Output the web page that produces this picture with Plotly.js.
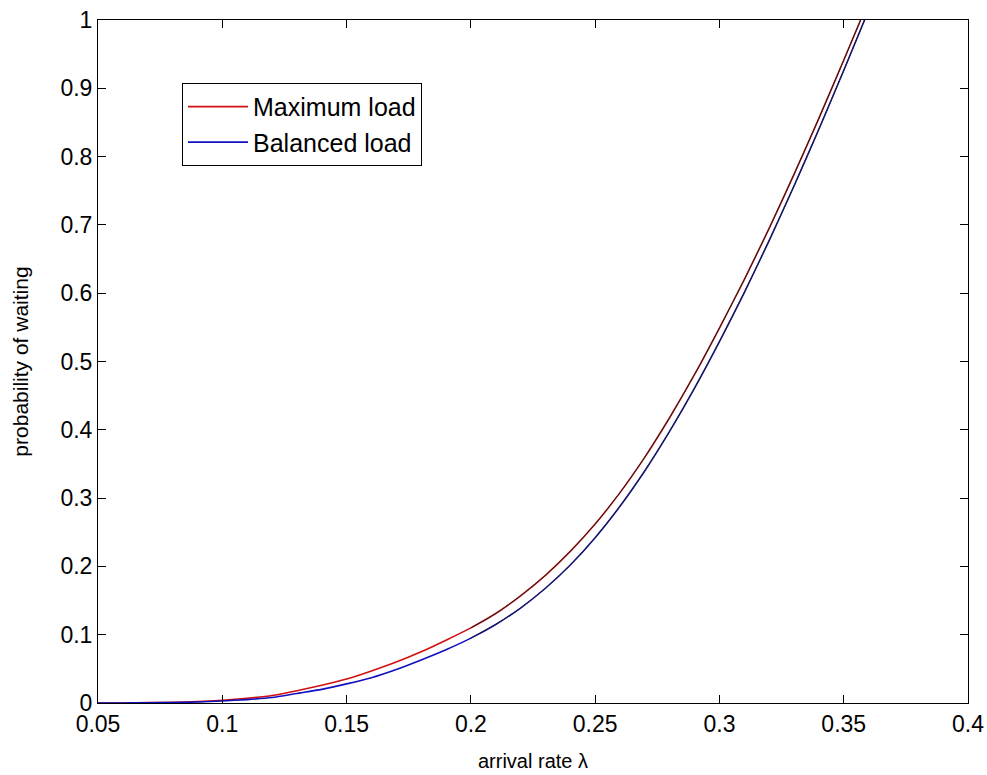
<!DOCTYPE html>
<html>
<head>
<meta charset="utf-8">
<script src="https://cdn.plot.ly/plotly-3.0.1.min.js"></script>
<style>html,body{margin:0;padding:0;background:#fff;}#chart{width:987px;height:775px;}</style>
</head>
<body>
<div id="chart"></div>
<script>
// arrival rate lambda
const lambda = [0.05,0.06,0.07,0.08,0.09,0.10,0.11,0.12,0.13,0.14,0.15,0.16,0.17,0.18,0.19,0.20,0.21,0.22,0.23,0.24,0.25,0.26,0.27,0.28,0.29,0.30,0.31,0.32,0.33,0.34,0.35,0.3568];
// probability of waiting — maximum load
const maxLoad = [0,0,0.0005,0.001,0.002,0.004,0.007,0.011,0.018,0.026,0.035,0.047,0.060,0.075,0.092,0.110,0.131,0.157,0.187,0.222,0.262,0.308,0.360,0.418,0.481,0.549,0.620,0.695,0.774,0.856,0.941,1.0];
// lambda for balanced load
const lambdaB = [0.05,0.06,0.07,0.08,0.09,0.10,0.11,0.12,0.13,0.14,0.15,0.16,0.17,0.18,0.19,0.20,0.21,0.22,0.23,0.24,0.25,0.26,0.27,0.28,0.29,0.30,0.31,0.32,0.33,0.34,0.35,0.3584];
// probability of waiting — balanced load
const balLoad = [0,0,0.0003,0.0007,0.0015,0.003,0.005,0.008,0.014,0.020,0.028,0.037,0.049,0.063,0.078,0.095,0.115,0.139,0.168,0.202,0.242,0.288,0.340,0.398,0.461,0.529,0.601,0.677,0.757,0.840,0.926,1.0];

const xTicks = [0.05,0.1,0.15,0.2,0.25,0.3,0.35,0.4];
const xTickText = ['0.05','0.1','0.15','0.2','0.25','0.3','0.35','0.4'];
const yTicks = [0,0.1,0.2,0.3,0.4,0.5,0.6,0.7,0.8,0.9,1];
const yTickText = ['0','0.1','0.2','0.3','0.4','0.5','0.6','0.7','0.8','0.9','1'];

const splitIdx = lambda.indexOf(0.20);

const font = 'Arial, "Liberation Sans", sans-serif';

const traces = [
  {x: lambda, y: maxLoad, mode: 'lines', name: 'Maximum load', line: {color: '#d01010', width: 1.6, shape: 'spline', smoothing: 0.6}},
  {x: lambdaB, y: balLoad, mode: 'lines', name: 'Balanced load', line: {color: '#1010c0', width: 1.6, shape: 'spline', smoothing: 0.6}},
  {x: lambda.slice(splitIdx), y: maxLoad.slice(splitIdx), mode: 'lines', showlegend: false, line: {color: '#202020', width: 1, shape: 'spline', smoothing: 0.6}},
  {x: lambdaB.slice(splitIdx), y: balLoad.slice(splitIdx), mode: 'lines', showlegend: false, line: {color: '#202020', width: 1, shape: 'spline', smoothing: 0.6}}
];

const layout = {
  width: 987, height: 775,
  margin: {l: 98, r: 19, t: 20, b: 72},
  paper_bgcolor: '#fff', plot_bgcolor: '#fff',
  font: {family: font, color: '#000', size: 22},
  showlegend: true,
  legend: {
    x: 0.0966, y: 0.908, xanchor: 'left', yanchor: 'top',
    bgcolor: '#fff', bordercolor: '#000', borderwidth: 1,
    font: {family: font, size: 25, color: '#000'},
    tracegroupgap: 0, itemwidth: 60
  },
  xaxis: {
    range: [0.05, 0.4], tickvals: xTicks, ticktext: xTickText,
    ticks: 'inside', ticklen: 8, tickwidth: 1, tickcolor: '#000',
    showline: true, linecolor: '#000', linewidth: 1, mirror: 'ticks',
    showgrid: false, zeroline: false,
    tickfont: {family: font, size: 23, color: '#000'},
    title: {text: 'arrival rate λ', font: {family: font, size: 20, color: '#000'}, standoff: 18}
  },
  yaxis: {
    range: [0, 1], tickvals: yTicks, ticktext: yTickText,
    ticks: 'inside', ticklen: 8, tickwidth: 1, tickcolor: '#000',
    showline: true, linecolor: '#000', linewidth: 1, mirror: 'ticks',
    showgrid: false, zeroline: false,
    tickfont: {family: font, size: 23, color: '#000'},
    title: {text: 'probability of waiting', font: {family: font, size: 21, color: '#000'}, standoff: 26}
  }
};

Plotly.newPlot('chart', traces, layout, {displayModeBar: false, staticPlot: true});
</script>
</body>
</html>
